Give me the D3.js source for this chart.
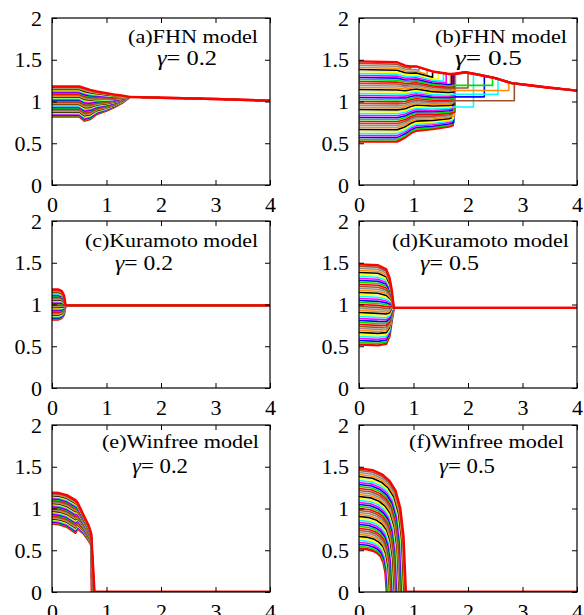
<!DOCTYPE html>
<html lang="en">
<head>
<meta charset="utf-8">
<title>frequency synchronisation</title>
<script src="https://cdn.jsdelivr.net/npm/d3@7"></script>
<style>
  body{margin:0;background:#fff;}
  svg{display:block;}
</style>
</head>
<body>
<div id="chart"></div>
<script>
// natural frequencies, lowest first (gamma = 0.2 and 0.5)
var omega02 = [0.820,0.829,0.838,0.847,0.856,0.865,0.874,0.883,0.892,0.901,0.910,0.919,0.928,0.937,0.946,0.955,0.964,0.973,0.982,0.991,1.000,1.009,1.018,1.027,1.036,1.045,1.054,1.063,1.072,1.081,1.090,1.099,1.108,1.117,1.126,1.135,1.144,1.153,1.162,1.171,1.180]
var omega05 = [0.520,0.544,0.568,0.592,0.616,0.640,0.664,0.688,0.712,0.736,0.760,0.784,0.808,0.832,0.856,0.880,0.904,0.928,0.952,0.976,1.000,1.024,1.048,1.072,1.096,1.120,1.144,1.168,1.192,1.216,1.240,1.264,1.288,1.312,1.336,1.360,1.384,1.408,1.432,1.456,1.480]

var xTicks = [0,1,2,3,4]
var yTicks = [0,0.5,1,1.5,2]

// (a) FHN, gamma 0.2 : bundle envelope, then common ridge
var fhnAHeadT = [0,0.5,0.6,0.7,0.82,1.0,1.13,1.3,1.42]
var fhnAHi    = [1.18,1.18,1.16,1.14,1.12,1.10,1.085,1.07,1.055]
var fhnALo    = [0.82,0.82,0.77,0.79,0.85,0.89,0.93,0.99,1.05]
var fhnARidgeT = [1.42,2,3,4]
var fhnARidge  = [1.055,1.045,1.03,1.01]

// (b) FHN, gamma 0.5
var fhnBHeadT = [0,0.7,0.85,0.95,1.05,1.35,1.65,1.75]
var fhnBHi    = [1.48,1.47,1.43,1.42,1.42,1.36,1.33,1.33]
var fhnBLo    = [0.52,0.52,0.57,0.62,0.65,0.67,0.70,0.72]
var fhnBRidgeT = [0,0.7,0.85,0.95,1.05,1.35,1.65,1.75,1.95,2.2,2.5,2.8,3.05,3.42,4]
var fhnBRidge  = [1.48,1.47,1.43,1.42,1.42,1.36,1.33,1.33,1.35,1.32,1.28,1.22,1.2,1.17,1.13]
var fhnBMerge = [1.72,1.70,1.74,1.68,1.71,1.73,1.69,1.75,1.70,1.72,1.76,1.74,
                 1.71,1.73,2.10,1.69,1.74,1.72,1.76,2.85,1.70,1.73,2.30,1.75,2.55,1.71,1.74,2.75,1.77,2.00,1.72,2.45,1.70,
                 1.60,1.55,1.45,1.35,1.25,1.10,0.95,1.75]

// (c),(d) Kuramoto
var kurCHeadT = [0,0.12,0.18,0.22,0.25]
var kurCHi    = [1.18,1.18,1.16,1.11,0.99]
var kurCLo    = [0.82,0.82,0.84,0.88,0.99]
var kurCRidgeT = [0.25,4]
var kurCRidge  = [0.99,0.99]
var kurDHeadT = [0,0.35,0.5,0.56,0.6,0.64]
var kurDHi    = [1.48,1.47,1.42,1.32,1.18,0.96]
var kurDLo    = [0.52,0.51,0.53,0.62,0.80,0.96]
var kurDRidgeT = [0.64,4]
var kurDRidge  = [0.96,0.96]

// (e) Winfree, gamma 0.2 : bundle, then each line falls to 0
var winEHeadT = [0,0.13,0.27,0.43,0.47,0.58,0.67,0.72]
var winEHi    = [1.19,1.185,1.16,1.10,1.07,0.92,0.80,0.70]
var winELo    = [0.82,0.81,0.78,0.71,0.76,0.70,0.62,0.56]
var winEDrop  = [0.730,0.731,0.733,0.734,0.735,0.736,0.738,0.739,0.740,0.741,0.743,0.744,0.745,0.746,0.748,0.749,0.750,0.751,0.753,0.754,0.755,0.756,0.758,0.759,0.760,0.761,0.763,0.764,0.765,0.766,0.768,0.769,0.770,0.771,0.773,0.774,0.775,0.776,0.778,0.779,0.780]

// (f) Winfree, gamma 0.5 : shared decay profile, per-line end time
var winFProfS = [0,0.3,0.5,0.65,0.78,0.88,0.95,1]
var winFProfF = [1,0.985,0.95,0.9,0.82,0.68,0.45,0]
var winFEnd = [0.510,0.519,0.528,0.536,0.545,0.554,0.563,0.571,0.580,0.589,0.598,0.606,0.615,0.624,0.633,0.641,0.650,0.659,0.668,0.676,0.685,0.694,0.703,0.711,0.720,0.729,0.738,0.746,0.755,0.764,0.773,0.781,0.790,0.799,0.808,0.816,0.825,0.834,0.843,0.851,0.860]

var palette = ["#ff0000","#00e000","#0000ff","#ff00ff","#00ffff","#ffff00","#000000","#ff8c00","#909090","#a0522d"]

var panels = [
  {title:"(a)FHN model", gamma:"0.2", omega:omega02, kind:"merge", headT:fhnAHeadT, hi:fhnAHi, lo:fhnALo, ridgeT:fhnARidgeT, ridge:fhnARidge, mergeAt:1.42,
   left:52, top:18, tx:76, ty:25, tw:130, gx:105, gy:47, gw:60},
  {title:"(b)FHN model", gamma:"0.5", omega:omega05, kind:"merge", headT:fhnBHeadT, hi:fhnBHi, lo:fhnBLo, ridgeT:fhnBRidgeT, ridge:fhnBRidge, merge:fhnBMerge,
   left:359, top:18, tx:76, ty:25, tw:132, gx:96, gy:47, gw:67},
  {title:"(c)Kuramoto model", gamma:"0.2", omega:omega02, kind:"merge", headT:kurCHeadT, hi:kurCHi, lo:kurCLo, ridgeT:kurCRidgeT, ridge:kurCRidge, mergeAt:0.25,
   left:52, top:221, tx:33, ty:26, tw:173, gx:63, gy:49, gw:58},
  {title:"(d)Kuramoto model", gamma:"0.5", omega:omega05, kind:"merge", headT:kurDHeadT, hi:kurDHi, lo:kurDLo, ridgeT:kurDRidgeT, ridge:kurDRidge, mergeAt:0.64,
   left:359, top:221, tx:33, ty:26, tw:177, gx:61, gy:49, gw:59},
  {title:"(e)Winfree model", gamma:"0.2", omega:omega02, kind:"drop", headT:winEHeadT, hi:winEHi, lo:winELo, drop:winEDrop,
   left:52, top:425, tx:50, ty:23, tw:157, gx:80, gy:48, gw:56},
  {title:"(f)Winfree model", gamma:"0.5", omega:omega05, kind:"profile", profS:winFProfS, profF:winFProfF, end:winFEnd,
   left:359, top:425, tx:50, ty:23, tw:155, gx:80, gy:48, gw:56}
]

var W = 584, H = 615, pw = 218, ph = 167
var serif = "'Liberation Serif','Times New Roman',Times,'DejaVu Serif',serif"

var svg = d3.select("#chart").append("svg").attr("width",W).attr("height",H)

function env(knots, vals){
  return d3.scaleLinear().domain(knots).range(vals).clamp(true)
}

function buildLines(p){
  var w0 = d3.min(p.omega), w1 = d3.max(p.omega)
  return p.omega.map(function(w,i){
    var f = (w-w0)/(w1-w0)
    var pts = []
    if(p.kind=="merge"){
      var hiS = env(p.headT,p.hi), loS = env(p.headT,p.lo), ridgeS = env(p.ridgeT,p.ridge)
      var m = p.merge ? p.merge[i] : p.mergeAt
      p.headT.forEach(function(t,k){ if(t<m) pts.push([t, p.lo[k]+f*(p.hi[k]-p.lo[k])]) })
      pts.push([m, loS(m)+f*(hiS(m)-loS(m))])
      pts.push([m, ridgeS(m)])
      p.ridgeT.forEach(function(t,k){ if(t>m) pts.push([t, p.ridge[k]]) })
    }else if(p.kind=="drop"){
      p.headT.forEach(function(t,k){ pts.push([t, p.lo[k]+f*(p.hi[k]-p.lo[k])]) })
      pts.push([p.drop[i],0])
      pts.push([4,0])
    }else{
      p.profS.forEach(function(s,k){ pts.push([s*p.end[i], w*p.profF[k]]) })
      pts.push([4,0])
    }
    return pts
  })
}

panels.forEach(function(p,pi){
  var x = d3.scaleLinear().domain([0,4]).range([p.left,p.left+pw])
  var y = d3.scaleLinear().domain([0,2]).range([p.top+ph,p.top])
  var g = svg.append("g")

  var clipId = "clip"+pi
  g.append("clipPath").attr("id",clipId).append("rect")
    .attr("x",p.left).attr("y",p.top-2).attr("width",pw).attr("height",ph+2)

  var line = d3.line().x(function(d){return x(d[0])}).y(function(d){return y(d[1])})
  var lines = buildLines(p)
  var n = lines.length
  g.append("g").attr("clip-path","url(#"+clipId+")")
    .selectAll("path").data(lines).enter().append("path")
    .attr("d",line)
    .attr("fill","none")
    .attr("stroke",function(d,i){return palette[i%palette.length]})
    .attr("stroke-width",function(d,i){return (i==0||i==n-1)?2.4:1.6})
    .attr("stroke-linejoin","round")

  // axes, ticks inward on all sides
  var ax = [
    g.append("g").attr("transform","translate(0,"+(p.top+ph)+")")
      .call(d3.axisBottom(x).tickValues(xTicks).tickSize(-5).tickPadding(11).tickFormat(function(d){return String(d)})),
    g.append("g").attr("transform","translate("+p.left+",0)")
      .call(d3.axisLeft(y).tickValues(yTicks).tickSize(-5).tickPadding(10).tickFormat(function(d){return String(d)})),
    g.append("g").attr("transform","translate(0,"+p.top+")")
      .call(d3.axisTop(x).tickValues(xTicks).tickSize(-5).tickFormat("")),
    g.append("g").attr("transform","translate("+(p.left+pw)+",0)")
      .call(d3.axisRight(y).tickValues(yTicks).tickSize(-5).tickFormat(""))
  ]
  ax.forEach(function(a){
    a.select(".domain").remove()
    a.attr("font-family",serif).attr("font-size",22)
    a.selectAll("line").attr("stroke","#000")
    a.selectAll("text").attr("fill","#000").attr("font-family",serif).attr("font-size",22)
  })

  g.append("rect").attr("x",p.left).attr("y",p.top).attr("width",pw).attr("height",ph)
    .attr("fill","none").attr("stroke","#000").attr("stroke-width",1.2)

  g.append("text").attr("x",p.left+p.tx).attr("y",p.top+p.ty)
    .attr("font-family",serif).attr("font-size",19)
    .attr("textLength",p.tw).attr("lengthAdjust","spacingAndGlyphs")
    .text(p.title)
  var gt = g.append("text").attr("x",p.left+p.gx).attr("y",p.top+p.gy)
    .attr("font-family",serif).attr("font-size",21)
    .attr("textLength",p.gw).attr("lengthAdjust","spacingAndGlyphs")
  gt.append("tspan").attr("font-style","italic").text("γ")
  gt.append("tspan").text("= "+p.gamma)
})
</script>
</body>
</html>
